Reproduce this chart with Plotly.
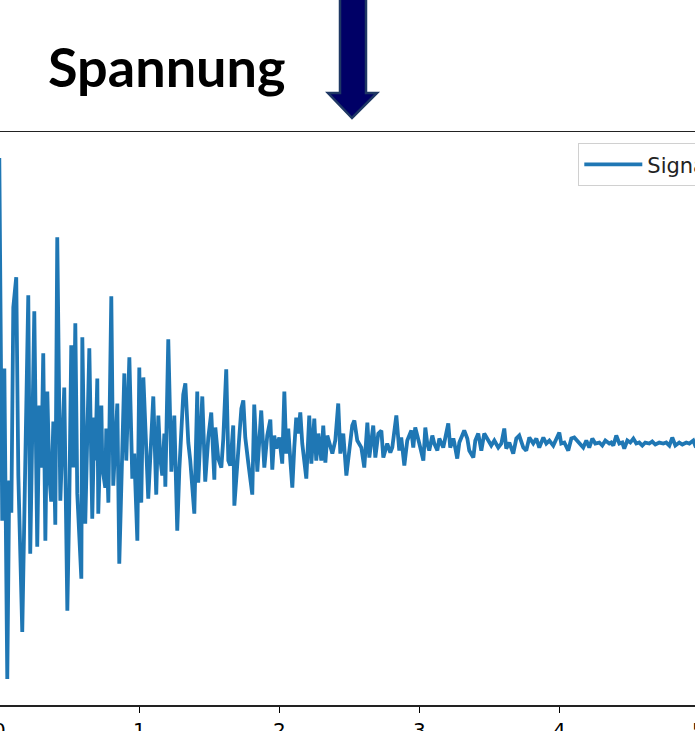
import plotly.graph_objects as go

# time axis (s) and signal values
t = [0.000, 0.021, 0.036, 0.057, 0.071, 0.086, 0.100, 0.121, 0.136, 0.164, 0.179, 0.207, 0.221, 0.250, 0.271, 0.286,
     0.300, 0.314, 0.329, 0.343, 0.357, 0.371, 0.386, 0.400, 0.414, 0.436, 0.464, 0.486, 0.500, 0.514, 0.529, 0.543,
     0.557, 0.586, 0.593, 0.614, 0.643, 0.664, 0.679, 0.686, 0.700, 0.707, 0.729, 0.736, 0.757, 0.764, 0.779, 0.800,
     0.814, 0.843, 0.857, 0.879, 0.893, 0.907, 0.929, 0.950, 0.964, 0.986, 1.000, 1.014, 1.029, 1.064, 1.086, 1.100,
     1.121, 1.136, 1.150, 1.164, 1.179, 1.186, 1.207, 1.229, 1.250, 1.271, 1.286, 1.314, 1.329, 1.350, 1.364, 1.393,
     1.414, 1.421, 1.450, 1.471, 1.493, 1.514, 1.536, 1.543, 1.564, 1.586, 1.600, 1.621, 1.636, 1.650, 1.671, 1.679,
     1.707, 1.729, 1.743, 1.757, 1.779, 1.807, 1.821, 1.843, 1.871, 1.893, 1.914, 1.936, 1.950, 1.964, 1.979, 2.000,
     2.021, 2.036, 2.050, 2.064, 2.079, 2.093, 2.107, 2.121, 2.136, 2.150, 2.164, 2.179, 2.193, 2.214, 2.229, 2.250,
     2.264, 2.279, 2.300, 2.314, 2.329, 2.343, 2.364, 2.379, 2.400, 2.421, 2.436, 2.457, 2.479, 2.500, 2.521, 2.536,
     2.557, 2.586, 2.607, 2.629, 2.643, 2.671, 2.686, 2.707, 2.729, 2.743, 2.771, 2.793, 2.807, 2.836, 2.857, 2.871,
     2.893, 2.914, 2.943, 2.957, 2.971, 3.000, 3.029, 3.043, 3.057, 3.071, 3.093, 3.107, 3.129, 3.143, 3.171, 3.186,
     3.207, 3.221, 3.243, 3.250, 3.271, 3.286, 3.307, 3.321, 3.343, 3.357, 3.386, 3.400, 3.421, 3.443, 3.464, 3.486,
     3.514, 3.536, 3.564, 3.586, 3.607, 3.621, 3.643, 3.671, 3.693, 3.714, 3.743, 3.764, 3.786, 3.814, 3.836, 3.857,
     3.886, 3.907, 3.929, 3.957, 3.979, 4.000, 4.014, 4.036, 4.064, 4.086, 4.107, 4.136, 4.150, 4.171, 4.193, 4.214,
     4.236, 4.257, 4.286, 4.307, 4.329, 4.357, 4.371, 4.386, 4.407, 4.429, 4.450, 4.464, 4.486, 4.507, 4.529, 4.550,
     4.571, 4.593, 4.614, 4.643, 4.664, 4.686, 4.714, 4.743, 4.764, 4.786, 4.807, 4.829, 4.857, 4.879, 4.907, 4.929,
     4.957, 4.971, 5.000]

signal = [2.85, -0.77, 0.75, -2.35, -0.37, -0.69, 1.36, 1.66, -0.32, -1.88, -0.71, 1.48, -1.10, 1.32, -1.03, 0.38,
          -0.24, 0.90, -0.97, 0.52, -0.32, -0.58, 0.22, -0.81, 2.06, -0.57, 0.56, -1.67, -0.58, 0.98, -0.24, 1.20,
          -0.50, -1.35, 1.06, -0.80, 0.95, -0.75, 0.26, -0.17, 0.65, -0.70, 0.38, -0.24, -0.44, 0.15, -0.59, 1.47,
          -0.42, 0.40, -1.20, -0.20, 0.70, -0.17, 0.86, -0.35, -0.10, -0.97, 0.76, -0.59, 0.66, -0.55, 0.20, 0.47,
          -0.51, 0.28, -0.15, -0.32, 0.10, -0.43, 1.04, -0.28, 0.28, -0.87, -0.26, 0.49, 0.60, 0.01, -0.17, -0.70,
          0.52, -0.39, 0.47, -0.38, 0.06, 0.31, -0.36, 0.16, -0.15, -0.24, 0.05, 0.74, -0.17, -0.22, 0.18, -0.62,
          -0.07, 0.35, 0.43, 0.06, -0.20, -0.51, 0.39, -0.28, 0.33, -0.24, 0.08, 0.24, -0.26, 0.08, -0.05, 0.06,
          -0.20, 0.52, -0.10, 0.15, -0.17, -0.44, -0.04, 0.26, 0.10, 0.31, 0.00, -0.17, -0.35, 0.28, -0.20, 0.25,
          -0.17, 0.10, -0.17, 0.18, -0.19, 0.08, -0.04, -0.10, 0.03, 0.40, -0.10, 0.10, -0.32, -0.04, 0.18, 0.23,
          0.03, -0.04, -0.24, 0.21, -0.14, 0.18, -0.14, 0.10, 0.13, -0.14, 0.00, -0.09, -0.04, 0.28, -0.07, 0.06,
          -0.22, 0.03, 0.13, -0.04, 0.16, 0.00, -0.17, 0.16, 0.00, -0.07, 0.08, 0.00, -0.07, 0.05, -0.04, 0.06,
          0.20, -0.04, 0.05, 0.01, -0.15, 0.01, 0.10, 0.13, 0.05, -0.07, -0.14, 0.03, 0.10, -0.07, 0.10, 0.05,
          -0.02, 0.03, -0.04, 0.00, 0.15, -0.05, 0.01, -0.10, 0.05, 0.08, -0.04, -0.07, 0.06, 0.00, 0.05, -0.04,
          0.06, 0.00, 0.03, -0.02, 0.05, 0.11, 0.00, 0.01, -0.07, 0.05, 0.06, 0.01, 0.00, -0.04, 0.03, -0.04,
          0.05, 0.00, 0.01, -0.02, 0.03, 0.00, 0.01, -0.02, 0.08, 0.00, 0.01, -0.05, 0.03, 0.01, 0.05, 0.00,
          0.01, -0.02, 0.01, 0.00, 0.02, -0.01, 0.01, 0.00, 0.01, -0.02, 0.06, -0.02, 0.01, -0.01, 0.01, 0.00,
          0.03, -0.02, 0.00]

x_ticks = [0, 1, 2, 3, 4, 5]
series_name = "Signal"
title_text = "Spannung"

W, H = 695, 731
ML, MR, MT, MB = 0, 0, 132, 26
PW, PH = W - ML - MR, H - MT - MB

def px_x(p):
    return (p - ML) / PW

def px_y(p):
    return (H - MB - p) / PH

fig = go.Figure()
fig.add_trace(go.Scatter(x=t, y=signal, mode="lines", name=series_name,
                         line=dict(color="#1f77b4", width=3.8), showlegend=True, hoverinfo="skip"))

# arrow (decoration above the chart)
arrow = (f"M {px_x(340)} {px_y(-5)} L {px_x(366)} {px_y(-5)} L {px_x(366)} {px_y(93)} "
         f"L {px_x(377)} {px_y(93)} L {px_x(352)} {px_y(118)} L {px_x(328)} {px_y(93)} "
         f"L {px_x(340)} {px_y(93)} Z")
fig.add_shape(type="path", path=arrow, xref="paper", yref="paper",
              fillcolor="#000066", line=dict(color="#1f3864", width=2.5), layer="above")

fig.add_annotation(text=title_text, xref="paper", yref="paper", x=px_x(46), y=px_y(66),
                   xanchor="left", yanchor="middle", showarrow=False,
                   font=dict(family="Lato", size=54, color="black", weight="bold"))

# partially visible end tick labels
for xv, lbl in [(-0.7, "0"), (698, "5")]:
    fig.add_annotation(text=lbl, xref="paper", yref="paper", x=px_x(xv), y=px_y(716),
                       xanchor="center", yanchor="top", showarrow=False,
                       font=dict(family="DejaVu Sans", size=20, color="black"))

fig.update_layout(
    width=W, height=H,
    margin=dict(l=ML, r=MR, t=MT, b=MB, autoexpand=False),
    paper_bgcolor="white", plot_bgcolor="white",
    showlegend=True,
    legend=dict(x=px_x(578), y=px_y(143), xanchor="left", yanchor="top",
                bgcolor="rgba(255,255,255,0.8)", bordercolor="#d0d0d0", borderwidth=1.3,
                font=dict(family="DejaVu Sans", size=21, color="#222222"), itemwidth=58),
    xaxis=dict(range=[0.005, 0.005 + PW / 140], tickvals=x_ticks, ticks="outside", ticklen=6,
               tickwidth=1.5, tickcolor="black", showline=True, linecolor="#222222", linewidth=1.5,
               mirror=True, showgrid=False, zeroline=False,
               tickfont=dict(family="DejaVu Sans", size=20, color="black")),
    yaxis=dict(range=[-2.61, 3.11], showticklabels=False, showgrid=False, zeroline=False,
               showline=False, ticks=""),
)

fig.write_html("out.html", config={"staticPlot": True, "displayModeBar": False},
               post_script="document.body.style.margin='0';document.body.style.overflow='hidden';")
